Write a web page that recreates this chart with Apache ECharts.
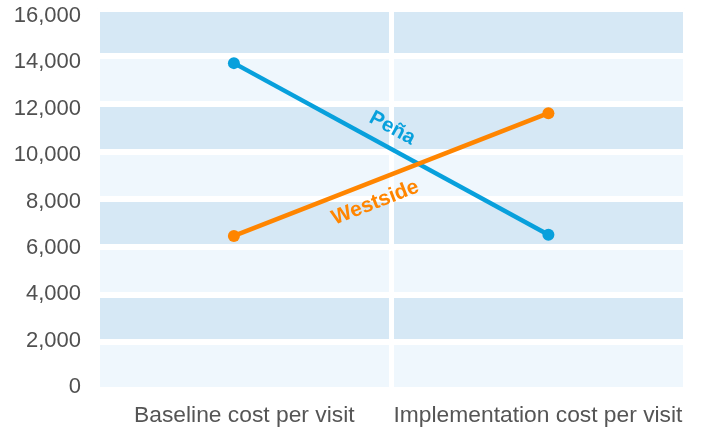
<!DOCTYPE html>
<html>
<head>
<meta charset="utf-8">
<script src="https://cdn.jsdelivr.net/npm/echarts@6/dist/echarts.min.js"></script>
<style>
html,body{margin:0;padding:0;background:#fff;}
#chart{width:705px;height:433px;}
</style>
</head>
<body>
<div id="chart"></div>
<script>
const categories = ['Baseline cost per visit', 'Implementation cost per visit'];
const penaValues = [13700, 6500];
const westsideValues = [6450, 11600];
const seriesNames = ['Peña', 'Westside'];
const yMin = 0, yMax = 16000, yStep = 2000;

const FONT = "'Liberation Sans', Arial, Helvetica, sans-serif";
const BLUE = '#08a0dc';
const ORANGE = '#ff8500';

const chart = echarts.init(document.getElementById('chart'), null, {renderer: 'canvas'});

function fmt(v){ return String(v).replace(/\B(?=(\d{3})+(?!\d))/g, ','); }

const gridL = 97.5, gridR = 20.2;
const option = {
  animation: false,
  backgroundColor: '#ffffff',
  grid: [
    {left: gridL, right: gridR, top: 8.3, bottom: 43.3},
    {left: gridL, right: gridR, top: 16, bottom: 46}
  ],
  xAxis: [
    {type: 'category', gridIndex: 0, data: categories, boundaryGap: true, z: 2,
     axisLine: {show: false}, axisTick: {show: false},
     axisLabel: {fontSize: 22.8, color: '#555555', fontFamily: FONT, margin: 15, interval: 0, hideOverlap: false},
     splitLine: {show: true, interval: 0, lineStyle: {color: '#ffffff', width: 5}}},
    {type: 'value', gridIndex: 0, min: -0.4337, max: 1.4337, show: false},
    {type: 'value', gridIndex: 1, show: false}
  ],
  yAxis: [
    {type: 'value', gridIndex: 0, min: yMin, max: yMax, interval: yStep, z: 0,
     axisLine: {show: false}, axisTick: {show: false}, axisLabel: {show: false},
     splitLine: {show: true, lineStyle: {color: '#ffffff', width: 6}},
     splitArea: {show: true, areaStyle: {color: ['#eff7fd', '#d6e8f5']}}},
    {type: 'value', gridIndex: 1, min: yMin, max: yMax, interval: yStep,
     axisLine: {show: false}, axisTick: {show: false}, splitLine: {show: false},
     axisLabel: {fontSize: 22, color: '#505050', fontFamily: FONT, margin: 16.5, formatter: fmt}}
  ],
  series: [
    {name: seriesNames[0], type: 'line', xAxisIndex: 1, yAxisIndex: 0,
     data: penaValues.map((v, i) => [i, v]),
     lineStyle: {color: BLUE, width: 4.5}, itemStyle: {color: BLUE},
     symbol: 'circle', symbolSize: 12, z: 3},
    {name: seriesNames[1], type: 'line', xAxisIndex: 1, yAxisIndex: 0,
     data: westsideValues.map((v, i) => [i, v]),
     lineStyle: {color: ORANGE, width: 4.5}, itemStyle: {color: ORANGE},
     symbol: 'circle', symbolSize: 12, z: 4}
  ]
};
chart.setOption(option);

function lineLabel(values, text, color, along, normal, size){
  const p0 = chart.convertToPixel({xAxisIndex: 1, yAxisIndex: 0}, [0, values[0]]);
  const p1 = chart.convertToPixel({xAxisIndex: 1, yAxisIndex: 0}, [1, values[1]]);
  const dx = p1[0] - p0[0], dy = p1[1] - p0[1];
  const len = Math.sqrt(dx*dx + dy*dy);
  const ux = dx/len, uy = dy/len;
  let nx = uy, ny = -ux;
  if (ny > 0) { nx = -nx; ny = -ny; }
  const mx = (p0[0] + p1[0]) / 2, my = (p0[1] + p1[1]) / 2;
  const cx = mx + ux*along + nx*normal;
  const cy = my + uy*along + ny*normal;
  return {
    type: 'text', x: cx, y: cy, rotation: -Math.atan2(dy, dx), z: 10,
    style: {text: text, fill: color, font: 'bold ' + size + 'px ' + FONT,
            textAlign: 'center', textVerticalAlign: 'middle'}
  };
}
chart.setOption({graphic: [
  lineLabel(penaValues, seriesNames[0], BLUE, -9, 18.6, 20.5),
  lineLabel(westsideValues, seriesNames[1], ORANGE, -25, -20.5, 21)
]});
</script>
</body>
</html>
